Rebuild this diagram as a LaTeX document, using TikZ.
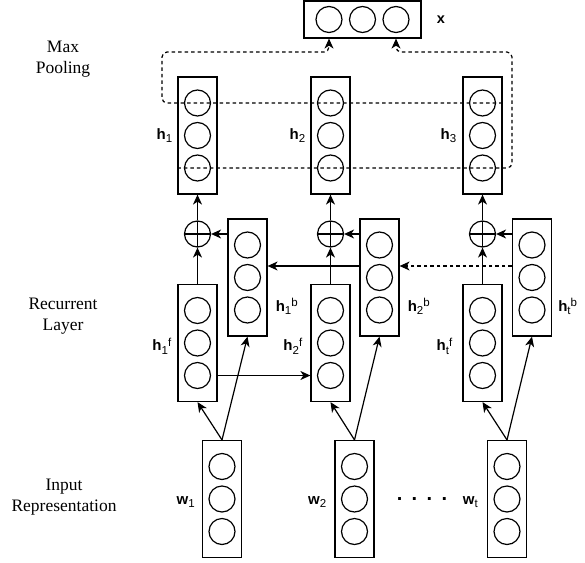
\documentclass[tikz,border=0pt]{standalone}
\usepackage{fontspec}
\setmainfont{Liberation Serif}
\newfontfamily\arial{Liberation Sans}
\usetikzlibrary{arrows.meta}
\newcommand\mylab[3]{{\arial\fontsize{15}{15}\selectfont\textbf{#1}\raisebox{-3.5pt}{\fontsize{11.5}{11.5}\selectfont #2}\raisebox{4.5pt}{\fontsize{11.5}{11.5}\selectfont #3}}}
\newcommand\stack[3]{%
  \node[vecbox] (#1) at (#2,#3) {};
  \node[unit] (#1c1) at (#2,{#3-32.5}) {};
  \node[unit] (#1c2) at (#2,#3) {};
  \node[unit] (#1c3) at (#2,{#3+32.5}) {};}
\tikzset{
  vecbox/.style={draw, line width=1.2pt, minimum width=39pt, minimum height=117pt, inner sep=0pt},
  hvecbox/.style={draw, line width=1.2pt, minimum width=117pt, minimum height=37pt, inner sep=0pt},
  unit/.style={draw, circle, line width=1.2pt, minimum size=26pt, inner sep=0pt},
  plus/.style={draw, circle, line width=1.2pt, minimum size=26pt, inner sep=0pt,
    path picture={\draw[line width=1.2pt] (path picture bounding box.north) -- (path picture bounding box.south)
      (path picture bounding box.west) -- (path picture bounding box.east);}},
  arr/.style={line width=1.2pt, -{Stealth[length=10pt,width=9pt,inset=3pt]}},
  dashline/.style={dash pattern=on 3.5pt off 3pt},
  side/.style={font=\fontsize{17.5}{21}\selectfont, align=center},
  lab/.style={inner sep=0pt}
}
\begin{document}
\begin{tikzpicture}[x=1pt,y=-1pt]
\useasboundingbox (0,0) rectangle (585,562);
% side labels
\node[side] (t1) at (63,59) {Max\\Pooling};
\node[side] (t2) at (63,316) {Recurrent\\Layer};
\node[side] (t3) at (64,497) {Input\\Representation};
% output x
\node[hvecbox] (X) at (362.5,19.5) {};
\node[unit] (X1) at (329,19.5) {};
\node[unit] (X2) at (362.5,19.5) {};
\node[unit] (X3) at (396,19.5) {};
\node[lab, anchor=west] (lx) at ([xshift=15pt]X.east) {\arial\bfseries\fontsize{14.5}{14.5}\selectfont x};
% top h
\stack{H1}{197.5}{135.5}
\stack{H2}{330.5}{135.5}
\stack{H3}{482.5}{135.5}
% forward
\stack{F1}{197.5}{343}
\stack{F2}{330.5}{343}
\stack{F3}{482.5}{343}
% backward
\stack{B1}{247.5}{277.5}
\stack{B2}{379.5}{277.5}
\stack{B3}{532}{277.5}
% inputs
\stack{W1}{222}{499}
\stack{W2}{354.5}{499}
\stack{W3}{507}{499}
% plus
\node[plus] (P1) at (197.5,234) {};
\node[plus] (P2) at (330.5,234) {};
\node[plus] (P3) at (482.5,234) {};
% labels
\node[lab, anchor=east] (lh1) at ([xshift=-5pt]H1.west) {\mylab{h}{1}{}};
\node[lab, anchor=east] (lh2) at ([xshift=-5pt]H2.west) {\mylab{h}{2}{}};
\node[lab, anchor=east] (lh3) at ([xshift=-6pt]H3.west) {\mylab{h}{3}{}};
\node[lab, anchor=east] (lf1) at ([xshift=-6pt,yshift=-3pt]F1.west) {\mylab{h}{1}{f}};
\node[lab, anchor=east] (lf2) at ([xshift=-8pt,yshift=-3pt]F2.west) {\mylab{h}{2}{f}};
\node[lab, anchor=east] (lf3) at ([xshift=-10pt,yshift=-3pt]F3.west) {\mylab{h}{t}{f}};
\node[lab, anchor=west] (lb1) at ([xshift=8pt,yshift=-29pt]B1.east) {\mylab{h}{1}{b}};
\node[lab, anchor=west] (lb2) at ([xshift=8pt,yshift=-29pt]B2.east) {\mylab{h}{2}{b}};
\node[lab, anchor=west] (lb3) at ([xshift=6pt,yshift=-29pt]B3.east) {\mylab{h}{t}{b}};
\node[lab, anchor=east] (lw1) at ([xshift=-7pt,yshift=-3pt]W1.west) {\mylab{w}{1}{}};
\node[lab, anchor=east] (lw2) at ([xshift=-8pt,yshift=-3pt]W2.west) {\mylab{w}{2}{}};
\node[lab, anchor=east] (lw3) at ([xshift=-9pt,yshift=-3pt]W3.west) {\mylab{w}{t}{}};
\node[lab] (dots) at (422,499) {\arial\bfseries\fontsize{20}{20}\selectfont .\hspace{9.4pt}.\hspace{9.4pt}.\hspace{9.4pt}.};
% arrows: inputs
\foreach \i in {1,2,3}{
  \draw[arr] (W\i.north) -- (F\i.south);
  \draw[arr] (W\i.north) -- (B\i.south);
  \draw[arr] (F\i.north) -- (P\i.south);
  \draw[arr] (P\i.north) -- (H\i.south);
  \draw[arr] (B\i.west |- P\i.east) -- (P\i.east);
}
% recurrent connections
\draw[arr] (F1.east |- F1c3) -- (F2.west |- F1c3);
\coordinate (ry) at (0,266);
\draw[arr] (B2.west |- ry) -- (B1.east |- ry);
\draw[arr, dashline] (B3.west |- ry) -- (B2.east |- ry);
% max pooling dashed loops
\coordinate (LL) at (162,52);
\coordinate (RR) at (512,52);
\draw[arr, dashline, rounded corners=5pt] (H3.east |- H3c1) -| (LL) -| (X.south -| X1);
\draw[arr, dashline, rounded corners=5pt] (H1.west |- H1c3) -| (RR) -| (X.south -| X3);
\end{tikzpicture}
\end{document}
